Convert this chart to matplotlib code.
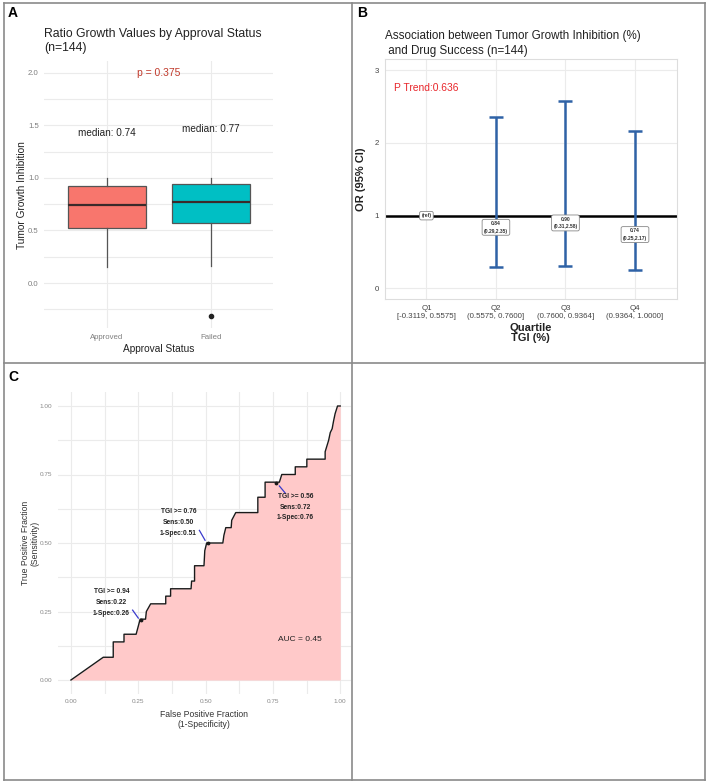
import numpy as np
import matplotlib
matplotlib.use("Agg")
import matplotlib.pyplot as plt
from matplotlib.lines import Line2D

plt.rcParams['font.family'] = ['Liberation Sans', 'DejaVu Sans']

# ---- panel A data (box stats)
groups = ["Approved", "Failed"]
box_q1 = [0.52, 0.566]
box_med = [0.74, 0.767]
box_q3 = [0.918, 0.94]
box_lo = [0.157, 0.163]
box_hi = [1.0, 1.0]
box_fliers = [[], [-0.3119]]
box_colors = ["#F8766D", "#00BFC4"]
median_text_y = [1.43, 1.46]
median_labels = ["median: 0.74", "median: 0.77"]

# ---- panel B data
quartiles = ["Q1\n[-0.3119, 0.5575]", "Q2\n(0.5575, 0.7600]",
             "Q3\n(0.7600, 0.9364]", "Q4\n(0.9364, 1.0000]"]
odds = [1.0, 0.84, 0.90, 0.74]
ci_lo = [np.nan, 0.29, 0.31, 0.25]
ci_hi = [np.nan, 2.35, 2.58, 2.17]
or_labels = ["(ref)", "0.84\n(0.29,2.35)", "0.90\n(0.31,2.58)", "0.74\n(0.25,2.17)"]

# ---- panel C data (ROC steps)
fpr = [0, 0.12, 0.157, 0.157, 0.197, 0.197, 0.242, 0.257, 0.277, 0.28, 0.296,
       0.352, 0.352, 0.37, 0.37, 0.446, 0.448, 0.459, 0.459, 0.494, 0.497, 0.504,
       0.564, 0.568, 0.575, 0.595, 0.597, 0.612, 0.694, 0.694, 0.721, 0.721,
       0.774, 0.783, 0.833, 0.833, 0.876, 0.876, 0.944, 0.944, 0.957, 0.963,
       0.970, 0.975, 0.981, 0.99, 1.0]
tpr = [0, 0.083, 0.083, 0.139, 0.139, 0.167, 0.167, 0.222, 0.222, 0.25, 0.278,
       0.278, 0.306, 0.306, 0.333, 0.333, 0.361, 0.361, 0.417, 0.417, 0.472, 0.50,
       0.50, 0.528, 0.556, 0.556, 0.583, 0.611, 0.611, 0.667, 0.667, 0.722,
       0.722, 0.75, 0.75, 0.778, 0.778, 0.806, 0.806, 0.833, 0.875, 0.903,
       0.917, 0.944, 0.972, 1.0, 1.0]
cut_fpr = [0.26, 0.51, 0.76]
cut_tpr = [0.22, 0.50, 0.72]
cut_labels = ["TGI >= 0.94\nSens:0.22\n1-Spec:0.26",
              "TGI >= 0.76\nSens:0.50\n1-Spec:0.51",
              "TGI >= 0.56\nSens:0.72\n1-Spec:0.76"]

W, H = 708, 782
fig = plt.figure(figsize=(W / 100, H / 100), dpi=100)


def box(x0, y0, x1, y1):
    return [x0 / W, 1 - y1 / H, (x1 - x0) / W, (y1 - y0) / H]


grid_c = "#ebebeb"

# ================= A
axA = fig.add_axes(box(44.3, 61, 273.1, 328.3))
stats = []
for i in range(2):
    stats.append(dict(med=box_med[i], q1=box_q1[i], q3=box_q3[i],
                      whislo=box_lo[i], whishi=box_hi[i], fliers=box_fliers[i]))
bp = axA.bxp(stats, positions=[1, 2], widths=0.75, patch_artist=True,
             showcaps=False,
             boxprops=dict(edgecolor="#555555", linewidth=0.9),
             medianprops=dict(color="#3b2a2a", linewidth=1.6),
             whiskerprops=dict(color="#555555", linewidth=0.9),
             flierprops=dict(marker="o", markersize=3, markerfacecolor="#222222",
                             markeredgecolor="#222222"))
for patch, c in zip(bp["boxes"], box_colors):
    patch.set_facecolor(c)
for i in range(2):
    axA.text(i + 1, median_text_y[i], median_labels[i], ha="center", va="center",
             fontsize=7.2, color="#222222")
axA.text(1.5, 2.0, "p = 0.375", ha="center", va="center", fontsize=7.5, color="#c0392b")
axA.set_xlim(0.4, 2.6)
axA.set_ylim(-0.43, 2.11)
axA.set_xticks([1, 2])
axA.set_xticklabels(groups)
axA.set_yticks([0, 0.5, 1.0, 1.5, 2.0])
axA.set_yticks([-0.25, 0.25, 0.75, 1.25, 1.75], minor=True)
axA.grid(True, which="both", color=grid_c, linewidth=0.8)
axA.set_axisbelow(True)
for s in axA.spines.values():
    s.set_visible(False)
axA.tick_params(which="both", length=0, labelsize=5.6, colors="#7f7f7f", pad=4)
axA.set_xlabel("Approval Status", fontsize=7.3, color="#222222", labelpad=2)
axA.set_ylabel("Tumor Growth Inhibition", fontsize=7.3, color="#222222", labelpad=0.5)
axA.set_title("Ratio Growth Values by Approval Status\n(n=144)", loc="left",
              fontsize=8.8, color="#222222", pad=7, linespacing=1.25)

# ================= B
axB = fig.add_axes(box(384.7, 59.3, 676.7, 299.3))
xq = np.arange(1, 5)
lo = np.array(ci_lo)
hi = np.array(ci_hi)
od = np.array(odds)
axB.axhline(1, color="black", linewidth=1.8, zorder=2)
axB.errorbar(xq[1:], od[1:], yerr=[od[1:] - lo[1:], hi[1:] - od[1:]], fmt="none",
             ecolor="#2f62a6", elinewidth=1.8, capsize=5, capthick=1.8, zorder=3)
for x, y, t in zip(xq, od, or_labels):
    axB.text(x, y, t, ha="center", va="center", fontsize=3.6, color="#333333",
             fontweight="bold", linespacing=1.6, zorder=5,
             bbox=dict(boxstyle="round,pad=0.35", fc="white", ec="#888888", lw=0.6))
axB.text(0.535, 2.75, "P Trend:0.636", ha="left", va="center", fontsize=7.4, color="#e8262b")
axB.set_xlim(0.4, 4.6)
axB.set_ylim(-0.15, 3.15)
axB.set_xticks(xq)
axB.set_xticklabels(quartiles, linespacing=1.2)
axB.set_yticks([0, 1, 2, 3])
axB.grid(True, color=grid_c, linewidth=0.8)
axB.set_axisbelow(True)
for s in axB.spines.values():
    s.set_color("#dddddd")
    s.set_linewidth(0.8)
axB.tick_params(length=0, labelsize=5.7, colors="#444444", pad=4)
axB.set_xlabel("Quartile\nTGI (%)", fontsize=8, fontweight="bold", color="#222222",
               labelpad=2, linespacing=1.1)
axB.set_ylabel("OR (95% CI)", fontsize=8, fontweight="bold", color="#222222", labelpad=6)
axB.set_title("Association between Tumor Growth Inhibition (%)\n and Drug Success (n=144)",
              loc="left", fontsize=8.4, color="#222222", pad=4, linespacing=1.3)

# ================= C
axC = fig.add_axes(box(57.5, 392.3, 351, 693.7))
axC.fill_between(fpr, tpr, 0, color="#ffc9c9", linewidth=0, zorder=1)
axC.plot(fpr, tpr, color="#1a1a1a", linewidth=1.0, zorder=3)
axC.scatter(cut_fpr, cut_tpr, s=3, color="#1a1a1a", zorder=4)
# label centre and leader segment, relative to each cut point
label_pos = [(-0.109, 0.062), (-0.111, 0.074), (0.073, -0.089)]
leader = [((-0.031, 0.035), (-0.010, 0.006)),
          ((-0.033, 0.046), (-0.012, 0.010)),
          ((0.014, -0.012), (0.036, -0.038))]
for fx, ty, t, (dx, dy), (p0, p1) in zip(cut_fpr, cut_tpr, cut_labels, label_pos, leader):
    axC.text(fx + dx, ty + dy, t, ha="center", va="center", fontsize=4.8,
             fontweight="bold", color="#222222", linespacing=1.75, zorder=5)
    axC.plot([fx + p0[0], fx + p1[0]], [ty + p0[1], ty + p1[1]],
             color="#3a3acc", linewidth=0.9, zorder=4)
axC.text(0.851, 0.146, "AUC = 0.45", ha="center", va="center", fontsize=6, color="#222222")
axC.set_xlim(-0.05, 1.04)
axC.set_ylim(-0.05, 1.05)
ticks = [0, 0.25, 0.5, 0.75, 1.0]
axC.set_xticks(ticks)
axC.set_yticks(ticks)
axC.set_xticklabels(["0.00", "0.25", "0.50", "0.75", "1.00"])
axC.set_yticklabels(["0.00", "0.25", "0.50", "0.75", "1.00"])
axC.set_xticks([0.125, 0.375, 0.625, 0.875], minor=True)
axC.set_yticks([0.125, 0.375, 0.625, 0.875], minor=True)
axC.grid(True, which="both", color=grid_c, linewidth=0.8)
axC.set_axisbelow(True)
for s in axC.spines.values():
    s.set_visible(False)
axC.tick_params(which="both", length=0, labelsize=4.6, colors="#888888", pad=4)
axC.set_xlabel("False Positive Fraction\n(1-Specificity)", fontsize=6.2, color="#333333",
               labelpad=4, linespacing=1.1)
axC.set_ylabel("True Positive Fraction\n(Sensitivity)", fontsize=6.2, color="#333333",
               labelpad=0, linespacing=1.1)

# ================= panel letters and frame
fig.text(13 / W, 1 - 13 / H, "A", fontsize=10, fontweight="bold", va="center", ha="center")
fig.text(362 / W, 1 - 13 / H, "B", fontsize=10, fontweight="bold", va="center", ha="center")
fig.text(13 / W, 1 - 377 / H, "C", fontsize=10, fontweight="bold", va="center", ha="center")

frame_c = "#8a8a8a"
for xs, ys in [([4, 705], [3, 3]), ([4, 705], [780, 780]), ([4, 4], [3, 780]),
               ([705, 705], [3, 780]), ([352, 352], [3, 780]), ([4, 705], [363, 363])]:
    fig.add_artist(Line2D([x / W for x in xs], [1 - y / H for y in ys],
                          color=frame_c, linewidth=1.2))

fig.savefig("out.png", dpi=100)
